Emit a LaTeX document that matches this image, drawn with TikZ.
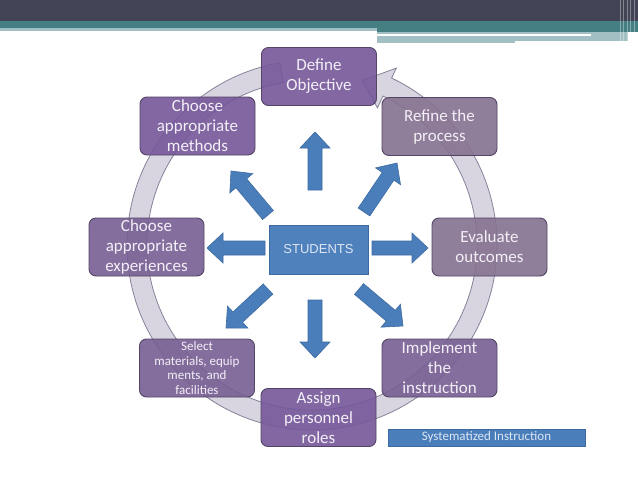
\documentclass[tikz,border=0pt]{standalone}
\usepackage{fontspec}
\setmainfont{Carlito}
\newfontfamily\arialfont{Liberation Sans}
\usetikzlibrary{calc}
\definecolor{hdark}{HTML}{434356}
\definecolor{hteal}{HTML}{457F83}
\definecolor{hlight}{HTML}{A2C0C3}
\definecolor{ringfill}{HTML}{D9D5E0}
\definecolor{ringdraw}{HTML}{86829A}
\definecolor{boxa}{HTML}{75579A}
\definecolor{boxb}{HTML}{857290}
\definecolor{boxc}{HTML}{775F93}
\definecolor{boxline}{HTML}{544566}
\definecolor{arrowblue}{HTML}{4A7EBB}
\definecolor{arrowline}{HTML}{3D6AA1}
\definecolor{studfill}{HTML}{4F81BD}
\definecolor{boxtext}{HTML}{F3EFF7}
\definecolor{bluetext}{HTML}{DCE6F3}
\begin{document}
\begin{tikzpicture}[x=1pt,y=-1pt,
  stagebox/.style={rectangle, rounded corners=7pt, draw=boxline, line width=0.9pt,
    fill=#1, fill opacity=0.9, text opacity=1, text=boxtext,
    minimum width=115pt, minimum height=58pt, align=center, inner sep=0pt,
    font=\fontsize{17}{20}\selectfont},
  stagebox/.default=boxa,
  studbox/.style={rectangle, draw=arrowline, line width=0.8pt, fill=studfill,
    text=bluetext, minimum width=99pt, minimum height=49pt, inner sep=0pt,
    font=\arialfont\fontsize{13}{15}\selectfont},
  legendbox/.style={rectangle, fill=arrowblue, draw=arrowline, line width=0.5pt,
    text=bluetext, minimum width=197pt, minimum height=17pt, inner sep=0pt,
    font=\fontsize{13}{14}\selectfont},
  blockarrow/.style={fill=arrowblue, draw=arrowline, line width=0.6pt, line join=miter,
    to path={
      ($(\tikztostart)!7pt!90:(\tikztotarget)$)
      -- ($(\tikztotarget)!16pt!(\tikztostart)!7pt!-90:(\tikztostart)$)
      -- ($(\tikztotarget)!16pt!(\tikztostart)!15pt!-90:(\tikztostart)$)
      -- (\tikztotarget)
      -- ($(\tikztotarget)!16pt!(\tikztostart)!15pt!90:(\tikztostart)$)
      -- ($(\tikztotarget)!16pt!(\tikztostart)!7pt!90:(\tikztostart)$)
      -- ($(\tikztostart)!7pt!-90:(\tikztotarget)$)
      -- cycle}}
]
\useasboundingbox (0,0) rectangle (638,479);
\fill[white] (0,0) rectangle (638,479);

% header bands
\fill[hdark] (0,0) rectangle (638,21);
\fill[hteal] (0,21) rectangle (638,28);
\fill[hteal] (377,28) rectangle (638,32);
\fill[hlight] (0,28) rectangle (377,31);
\fill[hlight] (377,32) rectangle (515,43);
\fill[hlight] (515,32) rectangle (628,41);
\fill[white] (377,33.5) rectangle (591,35.5);
\foreach \xx in {620,623.5,627,630.5,634}
  \draw[white, opacity=0.35, line width=0.9pt] (\xx,0) -- (\xx,43);

% circular arrow
\begin{scope}[shift={(312,245)}]
  \draw[ringdraw, fill=ringfill, line width=0.8pt, line join=miter]
    (-260:185pt) arc[start angle=-260, end angle=64.5, radius=185pt]
    -- (64.5:196pt) -- (73:172pt) -- (64.5:152pt) -- (64.5:165pt)
    arc[start angle=64.5, end angle=-260, radius=165pt] -- cycle;
\end{scope}

% block arrows
\coordinate (upA) at (315,190);  \coordinate (upB) at (315,132);
\coordinate (dnA) at (315,300);  \coordinate (dnB) at (315,358);
\coordinate (lfA) at (265,248);  \coordinate (lfB) at (207,248);
\coordinate (rtA) at (372,248);  \coordinate (rtB) at (428,248);
\coordinate (ulA) at (268,215);  \coordinate (ulB) at (231,171);
\coordinate (urA) at (364,212);  \coordinate (urB) at (397,163);
\coordinate (dlA) at (268,289);  \coordinate (dlB) at (226,328);
\coordinate (drA) at (359,289);  \coordinate (drB) at (403,326);
\foreach \a in {up,dn,lf,rt,ul,ur,dl,dr}
  \draw[blockarrow] (\a A) to (\a B);

% stages
\node[stagebox=boxa] (def) at (319,76.5) {Define\\Objective};
\node[stagebox=boxb] (ref) at (439.5,126.5) {Refine the\\process};
\node[stagebox=boxa] (meth) at (197.5,126) {Choose\\appropriate\\methods};
\node[stagebox=boxc] (exp) at (146.5,247) {Choose\\appropriate\\experiences};
\node[stagebox=boxb] (eval) at (489.5,247) {Evaluate\\outcomes};
\node[stagebox=boxc, font=\fontsize{13}{14.6}\selectfont] (sel) at (197,368)
  {Select\\materials, equip\\ments, and\\facilities};
\node[stagebox=boxc] (impl) at (439.5,368) {Implement\\the\\instruction};
\node[stagebox=boxa] (asg) at (318.5,417.5) {Assign\\personnel\\roles};

\node[studbox] (stu) at (318.5,249.5) {STUDENTS};
\node[legendbox] (leg) at (486.5,437.5) {Systematized Instruction};
\end{tikzpicture}
\end{document}
